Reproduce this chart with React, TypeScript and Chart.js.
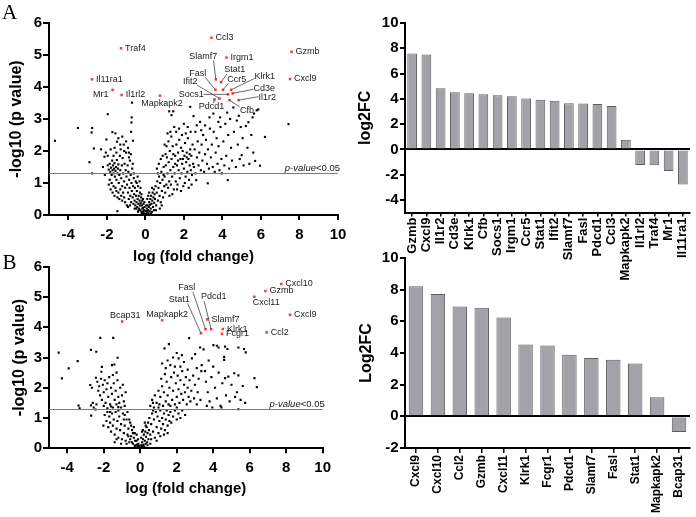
import React, { useEffect, useRef } from "react";
import { Chart, registerables } from "chart.js";

Chart.register(...registerables);

const FONT = "'Liberation Sans', Arial, Helvetica, sans-serif";
const SERIF = "'Liberation Serif', 'Times New Roman', serif";

// ---------- Panel A data ----------
const genesA = ["Gzmb", "Cxcl9", "Il1r2", "Cd3e", "Klrk1", "Cfb", "Socs1", "Irgm1", "Ccr5", "Stat1", "Ifit2", "Slamf7", "Fasl", "Pdcd1", "Ccl3", "Mapkapk2", "Il1rl2", "Traf4", "Mr1", "Il11ra1"];
const log2fcA = [7.59, 7.51, 4.84, 4.53, 4.45, 4.37, 4.29, 4.21, 4.03, 3.93, 3.85, 3.66, 3.64, 3.59, 3.43, 0.76, -1.23, -1.26, -1.7, -2.77];
const negLogPA = [5.1, 4.25, 3.59, 3.8, 3.91, 3.59, 3.77, 4.92, 3.91, 4.15, 3.64, 4.24, 3.91, 3.61, 5.54, 3.73, 3.75, 5.21, 3.91, 4.24];

// ---------- Panel B data ----------
const genesB = ["Cxcl9", "Cxcl10", "Ccl2", "Gzmb", "Cxcl11", "Klrk1", "Fcgr1", "Pdcd1", "Slamf7", "Fasl", "Stat1", "Mapkapk2", "Bcap31"];
const log2fcB = [8.21, 7.73, 6.93, 6.86, 6.25, 4.53, 4.48, 3.89, 3.68, 3.58, 3.33, 1.2, -0.99];
const negLogPB = [4.41, 5.43, 3.83, 5.2, 5.01, 3.94, 3.78, 3.93, 4.26, 3.93, 3.8, 4.23, 4.19];

const pValueThreshold = 1.3; // -log10(0.05)

// ---------- tick labels ----------
const volcanoXTicks = [-4, -2, 0, 2, 4, 6, 8, 10];
const volcanoYTicks = [0, 1, 2, 3, 4, 5, 6];
const barATicks = [-4, -2, 0, 2, 4, 6, 8, 10];
const barBTicks = [-2, 0, 2, 4, 6, 8, 10];

// ---------- other (unlabelled) genes: [log fold change, -log10 p] ----------
const otherGenesA: [number, number][] = [
  [-4.69, 2.32], [-3.5, 2.72], [-2.76, 2.72], [-2.79, 2.58], [-2.67, 2.08], [-2.9, 1.65], [-2.76, 1.3], [-1.95, 3.15], [-2.02, 2.36], [-2.12, 1.82], [-2.3, 2.05], [-2.05, 1.95], [-1.71, 2.59], [-1.55, 2.55], [-1.47, 2.29], [-1.45, 0.12], [-0.69, 3.51], [-0.71, 3.05], [-0.72, 2.89], [-0.74, 2.6], [-0.64, 2.32],
  [-1.95, 1.55], [-1.9, 1.42], [-1.85, 1.6], [-1.82, 1.35], [-1.78, 1.48], [-1.75, 1.25], [-1.72, 1.7], [-1.7, 1.4], [-1.68, 1.55], [-1.65, 1.3], [-1.62, 1.45], [-1.6, 1.62], [-1.58, 1.2], [-1.55, 1.38], [-1.52, 1.5], [-1.5, 1.1], [-1.48, 1.72], [-1.45, 1.3], [-1.42, 1.45], [-1.4, 1.58], [-1.38, 1.0], [-1.35, 1.25], [-1.32, 1.85], [-1.3, 1.4], [-1.28, 2.05], [-1.25, 1.15], [-1.22, 1.55], [-1.2, 0.9], [-1.18, 1.78], [-1.15, 1.3], [-1.12, 2.2], [-1.1, 1.05], [-1.08, 1.6], [-1.05, 0.85], [-1.02, 1.4], [-1.0, 1.95],
  [-1.9, 0.95], [-1.85, 1.1], [-1.8, 0.8], [-1.75, 1.0], [-1.7, 0.7], [-1.65, 0.9], [-1.6, 0.6], [-1.55, 0.85], [-1.5, 0.75], [-1.45, 0.55], [-1.4, 0.7], [-1.35, 0.5], [-1.3, 0.8], [-1.25, 0.6], [-1.2, 0.45], [-1.15, 0.7], [-1.1, 0.55], [-1.05, 0.4],
  [-1.6, 2.1], [-1.5, 1.95], [-1.4, 2.4], [-1.3, 2.2], [-1.2, 2.45], [-1.1, 2.0], [-1.0, 2.3], [-0.9, 2.1], [-0.85, 1.8], [-1.8, 2.05], [-1.65, 1.85], [-1.95, 1.85], [-2.2, 1.5], [-2.1, 1.25],
  [-0.98, 1.2], [-0.95, 0.95], [-0.92, 1.55], [-0.9, 0.7], [-0.88, 1.35], [-0.86, 0.5], [-0.84, 1.1], [-0.82, 0.85], [-0.8, 1.7], [-0.78, 0.6], [-0.76, 1.25], [-0.74, 0.4], [-0.72, 1.0], [-0.7, 0.75], [-0.68, 1.45], [-0.66, 0.55], [-0.64, 0.9], [-0.62, 0.35], [-0.6, 1.15], [-0.58, 0.65], [-0.56, 0.45], [-0.54, 0.85], [-0.52, 0.3], [-0.5, 1.05], [-0.96, 0.3], [-0.9, 0.25], [-0.85, 1.95], [-0.75, 1.9], [-0.65, 1.6], [-0.6, 1.3], [-0.55, 0.2], [-0.8, 0.3],
  [-0.48, 0.6], [-0.46, 0.4], [-0.44, 0.75], [-0.42, 0.25], [-0.4, 0.5], [-0.38, 0.9], [-0.36, 0.35], [-0.34, 0.6], [-0.32, 0.2], [-0.3, 0.45], [-0.28, 0.7], [-0.26, 0.15], [-0.24, 0.38], [-0.22, 0.55], [-0.2, 0.1], [-0.18, 0.3], [-0.16, 0.45], [-0.14, 0.08], [-0.12, 0.22], [-0.1, 0.35], [-0.08, 0.05], [-0.06, 0.15], [-0.04, 0.25], [-0.02, 0.03], [-0.45, 1.0], [-0.4, 1.2], [-0.35, 0.15], [-0.3, 1.05], [-0.25, 0.85], [-0.2, 0.65], [-0.15, 0.2], [-0.1, 0.12], [-0.05, 0.4], [-0.47, 0.2], [-0.38, 0.1], [-0.28, 0.3], [-0.18, 0.05], [-0.12, 0.5],
  [0.02, 0.04], [0.04, 0.12], [0.06, 0.02], [0.08, 0.2], [0.1, 0.08], [0.12, 0.3], [0.14, 0.15], [0.16, 0.05], [0.18, 0.25], [0.2, 0.4], [0.22, 0.12], [0.24, 0.32], [0.26, 0.5], [0.28, 0.2], [0.3, 0.6], [0.32, 0.35], [0.34, 0.1], [0.36, 0.45], [0.38, 0.7], [0.4, 0.25], [0.42, 0.55], [0.44, 0.8], [0.46, 0.38], [0.48, 0.65], [0.1, 0.5], [0.2, 0.7], [0.3, 0.05], [0.35, 0.85], [0.45, 0.15], [0.05, 0.3], [0.15, 0.6], [0.25, 0.02],
  [0.5, 0.5], [0.53, 0.9], [0.56, 0.3], [0.59, 0.7], [0.62, 1.05], [0.65, 0.45], [0.68, 0.85], [0.71, 1.2], [0.74, 0.6], [0.77, 1.0], [0.8, 0.4], [0.83, 1.35], [0.86, 0.75], [0.89, 1.1], [0.92, 0.55], [0.95, 1.5], [0.98, 0.9], [0.6, 1.45], [0.7, 1.6], [0.8, 1.75], [0.9, 1.85], [0.75, 0.2], [0.55, 0.15], [0.85, 0.3], [0.65, 1.3], [0.95, 1.25],
  [1.0, 1.2], [1.03, 0.7], [1.06, 1.55], [1.09, 0.95], [1.12, 1.8], [1.15, 1.3], [1.18, 0.85], [1.21, 1.65], [1.24, 1.05], [1.27, 2.0], [1.3, 1.4], [1.33, 0.95], [1.36, 1.75], [1.39, 1.2], [1.42, 2.15], [1.45, 1.5], [1.48, 0.8], [1.1, 2.15], [1.2, 2.3], [1.35, 2.45], [1.45, 1.9], [1.05, 1.9], [1.25, 0.6], [1.4, 0.65], [1.24, 3.24], [1.45, 3.24], [1.36, 3.12], [1.3, 2.6], [1.15, 2.55], [1.0, 2.2], [1.5, 2.75],
  [1.52, 1.3], [1.55, 1.85], [1.58, 1.05], [1.61, 2.2], [1.64, 1.55], [1.67, 0.95], [1.7, 1.95], [1.73, 1.4], [1.76, 2.35], [1.79, 1.15], [1.82, 1.75], [1.85, 2.1], [1.88, 1.3], [1.91, 1.6], [1.94, 2.0], [1.97, 0.9], [2.0, 1.45], [2.03, 1.85], [2.06, 2.25], [2.09, 1.2], [2.12, 1.65], [2.15, 1.95], [2.18, 1.35], [2.21, 2.4], [2.24, 1.75], [2.27, 1.1], [2.3, 1.55], [2.33, 2.05], [2.36, 1.4], [2.39, 1.85], [2.42, 1.25], [2.45, 2.2], [2.48, 1.6], [1.6, 2.6], [1.75, 2.7], [1.9, 2.5], [2.0, 2.85], [2.1, 2.55], [2.2, 2.75], [2.35, 2.6], [2.33, 3.38], [2.5, 3.09], [1.65, 0.8], [1.85, 0.75], [2.05, 1.0], [2.25, 0.85], [2.4, 0.95], [1.55, 1.6], [1.7, 1.7], [1.95, 1.75], [2.15, 1.8], [2.3, 1.9],
  [2.52, 1.5], [2.56, 2.05], [2.6, 1.3], [2.64, 1.09], [2.68, 1.8], [2.67, 2.8], [2.72, 2.3], [2.76, 1.55], [2.8, 1.95], [2.84, 2.91], [2.88, 1.4], [2.92, 2.2], [2.96, 1.7], [3.0, 2.5], [3.05, 1.35], [3.1, 1.9], [3.15, 2.35], [3.2, 1.6], [3.24, 0.99], [3.25, 2.05], [3.33, 3.05], [3.3, 1.45], [3.35, 2.7], [3.4, 1.8], [3.45, 2.2], [3.53, 3.17], [3.5, 1.5], [3.55, 2.6], [3.6, 1.35], [3.65, 1.95], [3.7, 2.4], [3.79, 2.91], [3.88, 3.05], [3.75, 1.6], [3.8, 2.15], [3.85, 1.4], [3.9, 2.75], [3.95, 1.75], [3.97, 1.3], [2.6, 2.6], [2.9, 2.65], [3.1, 2.8],
  [4.05, 2.3], [4.1, 1.55], [4.15, 2.85], [4.2, 1.85], [4.28, 1.09], [4.3, 2.5], [4.35, 1.45], [4.4, 3.0], [4.45, 2.1], [4.57, 3.36], [4.5, 1.7], [4.6, 2.6], [4.7, 1.5], [4.75, 2.95], [4.8, 2.2], [4.9, 1.75], [4.95, 2.75], [5.0, 1.87], [5.05, 2.4], [5.1, 1.55], [5.22, 2.78], [5.3, 2.1], [5.4, 1.6], [5.5, 2.5], [5.57, 3.05], [5.64, 3.17], [5.78, 3.27], [5.86, 3.3], [5.6, 1.95], [5.7, 1.69], [5.95, 1.54], [6.21, 2.44], [7.43, 2.84], [4.25, 3.2], [4.85, 3.1], [5.35, 2.9],
];

const otherGenesB: [number, number][] = [
  [-4.47, 3.16], [-3.92, 2.64], [-4.29, 2.31], [-3.43, 2.88], [-3.38, 1.41], [-3.32, 1.32], [-2.19, 3.65], [-1.48, 3.65], [-2.7, 3.25], [-2.41, 3.19], [-1.24, 2.99], [-1.42, 2.77], [-2.1, 2.69], [-2.13, 2.53], [-2.43, 2.33], [-2.69, 1.08], [-2.02, 0.75], [-2.74, 2.09], [-2.65, 2.0], [-2.6, 1.5], [-2.7, 1.42], [-2.55, 1.35], [-2.45, 1.28], [-1.5, 2.42], [-1.55, 2.75], [-1.3, 2.5],
  [-2.35, 2.2], [-2.3, 1.9], [-2.25, 2.05], [-2.2, 1.75], [-2.15, 2.3], [-2.1, 1.6], [-2.05, 2.1], [-2.0, 1.85], [-1.95, 2.25], [-1.9, 1.5], [-1.85, 1.95], [-1.8, 2.15], [-1.75, 1.7], [-1.7, 2.35], [-1.65, 1.45], [-1.6, 2.0], [-1.55, 1.8], [-1.5, 1.35], [-1.45, 2.15], [-1.4, 1.6], [-1.35, 1.9], [-1.3, 1.45], [-1.25, 2.25], [-1.2, 1.7], [-1.15, 1.5], [-1.1, 2.0], [-1.05, 1.35], [-1.0, 1.75], [-0.95, 2.1], [-0.9, 1.55], [-0.85, 1.4], [-0.8, 1.85], [-2.4, 1.45], [-2.0, 1.4], [-1.6, 1.38], [-1.8, 1.32], [-1.2, 1.36],
  [-1.95, 1.1], [-1.85, 0.9], [-1.8, 1.2], [-1.75, 0.7], [-1.7, 1.05], [-1.65, 0.85], [-1.6, 0.55], [-1.55, 1.15], [-1.5, 0.75], [-1.45, 0.95], [-1.4, 0.45], [-1.35, 1.2], [-1.3, 0.65], [-1.25, 0.9], [-1.2, 0.35], [-1.15, 1.05], [-1.1, 0.6], [-1.05, 0.8], [-1.0, 0.3], [-0.95, 1.15], [-0.9, 0.5], [-0.85, 0.75], [-0.8, 0.25], [-0.75, 0.95], [-0.7, 0.45], [-0.65, 0.65], [-0.6, 0.2], [-0.55, 0.85], [-0.5, 0.4], [-0.45, 0.6], [-0.4, 0.15], [-0.35, 0.35], [-0.3, 0.5], [-0.25, 0.1], [-0.2, 0.25], [-0.15, 0.05], [-0.1, 0.15], [-0.05, 0.03], [-1.65, 1.2], [-1.4, 0.2], [-1.2, 1.25], [-0.9, 0.95], [-0.7, 1.2], [-0.6, 0.95], [-0.5, 0.75], [-0.45, 0.2], [-0.3, 0.08], [-0.2, 0.45], [-0.12, 0.3], [-0.08, 0.08], [-0.35, 0.7], [-0.55, 0.3], [-0.75, 0.15], [-1.05, 0.15], [-1.3, 0.3], [-0.85, 1.1], [-0.65, 0.4], [-0.4, 0.5], [-0.28, 0.25], [-0.18, 0.12],
  [0.02, 0.02], [0.05, 0.1], [0.08, 0.04], [0.1, 0.2], [0.12, 0.08], [0.15, 0.3], [0.18, 0.12], [0.2, 0.45], [0.22, 0.05], [0.25, 0.25], [0.28, 0.55], [0.3, 0.15], [0.32, 0.38], [0.35, 0.7], [0.38, 0.2], [0.4, 0.5], [0.43, 0.85], [0.45, 0.3], [0.48, 0.6], [0.5, 1.0], [0.55, 0.45], [0.6, 0.8], [0.65, 1.15], [0.7, 0.55], [0.75, 0.95], [0.8, 0.35], [0.85, 1.2], [0.9, 0.7], [0.95, 1.05], [1.0, 0.5], [1.05, 0.9], [1.1, 1.25], [1.15, 0.65], [1.2, 1.0], [1.25, 0.8], [1.3, 1.15], [1.35, 0.6], [1.4, 0.95], [1.45, 1.25], [1.5, 0.75], [1.55, 1.1], [1.6, 0.9], [1.65, 1.2], [1.7, 0.85], [1.8, 1.05], [1.9, 1.25], [2.0, 0.95], [2.1, 1.15], [2.2, 1.0], [2.3, 1.25], [2.46, 1.1], [0.1, 0.55], [0.2, 0.02], [0.3, 0.75], [0.4, 0.1], [0.6, 0.3], [0.7, 1.25], [0.9, 0.25], [1.1, 0.4], [1.3, 0.45], [1.5, 0.5], [0.25, 0.85], [0.05, 0.35], [0.15, 0.6], [0.55, 0.15],
  [0.55, 1.4], [0.65, 1.6], [0.75, 1.35], [0.8, 1.75], [0.9, 1.5], [1.0, 1.9], [1.05, 1.45], [1.1, 1.7], [1.2, 2.05], [1.25, 1.4], [1.3, 1.85], [1.4, 1.55], [1.45, 2.2], [1.5, 1.75], [1.55, 1.45], [1.6, 2.0], [1.7, 2.35], [1.75, 1.6], [1.8, 1.9], [1.85, 2.5], [1.9, 1.45], [1.95, 2.15], [2.0, 1.7], [2.05, 2.4], [2.1, 1.95], [2.15, 1.5], [2.2, 2.25], [2.25, 1.8], [2.3, 2.55], [2.35, 1.6], [2.4, 2.1], [2.45, 1.85], [2.5, 2.35], [2.55, 1.45], [2.6, 2.0], [2.65, 1.7], [2.7, 2.25], [2.75, 1.55], [2.8, 1.9], [2.9, 2.4], [2.95, 1.65], [3.0, 2.1], [3.1, 1.45], [3.15, 1.85], [3.2, 2.3], [3.3, 1.6], [3.35, 2.55], [1.15, 2.3], [1.35, 2.45], [1.65, 1.4], [2.0, 1.35], [1.0, 1.35], [0.7, 1.5],
  [1.33, 3.3], [1.57, 3.44], [1.2, 2.8], [1.4, 2.65], [1.5, 2.9], [1.65, 2.75], [1.8, 3.0], [1.9, 2.7], [2.0, 3.15], [2.1, 2.97], [2.28, 3.08], [2.2, 2.7], [2.4, 2.85], [2.68, 3.64], [2.83, 2.97], [3.01, 3.11], [3.28, 3.33], [3.47, 3.27], [2.6, 2.6], [3.37, 2.75], [3.1, 2.65],
  [3.55, 2.55], [3.6, 2.2], [3.7, 1.85], [3.8, 1.55], [3.9, 2.35], [4.01, 3.41], [4.2, 3.39], [4.29, 3.33], [4.0, 2.7], [4.1, 2.0], [4.2, 1.65], [4.3, 2.5], [4.4, 1.4], [4.5, 2.15], [4.6, 3.02], [4.6, 2.92], [4.65, 3.36], [4.78, 3.28], [4.65, 2.32], [4.83, 2.37], [4.7, 1.75], [4.9, 1.55], [5.0, 2.1], [5.15, 2.48], [5.38, 2.41], [5.2, 1.7], [5.3, 1.85], [5.38, 1.29], [5.38, 3.33], [5.5, 1.6], [5.62, 2.06], [5.69, 3.28], [5.78, 3.17], [5.75, 1.5], [6.26, 2.32], [6.39, 2.02], [3.65, 1.4], [3.95, 1.35], [4.45, 1.35], [3.75, 2.9],
];

// ---------- label layout (pixel offsets of label text from its point) ----------
type LabelLayout = { gene: string; dx: number; dy: number; align: CanvasTextAlign; leader?: [number, number] };
const R = (gene: string, dy = 0): LabelLayout => ({ gene, dx: 4, dy, align: "left" });

const labelLayoutA: LabelLayout[] = [
  R("Gzmb"), R("Cxcl9"), R("Irgm1"), R("Ccl3"), R("Il1rl2"), R("Traf4"), R("Il11ra1"),
  { gene: "Mr1", dx: -4, dy: 5, align: "right" },
  { gene: "Mapkapk2", dx: 2, dy: 8, align: "center" },
  { gene: "Il1r2", dx: 28.6, dy: -2.4, align: "center", leader: [19.9, -3.4] },
  { gene: "Cd3e", dx: 31.6, dy: -5.1, align: "center", leader: [20.9, -4.1] },
  { gene: "Klrk1", dx: 33.6, dy: -13.2, align: "center", leader: [23.5, -11.5] },
  { gene: "Cfb", dx: 17.4, dy: 9.9, align: "center", leader: [10, 6.6] },
  { gene: "Socs1", dx: -36.8, dy: 0, align: "center", leader: [-24.5, 0] },
  { gene: "Ccr5", dx: 13.7, dy: -10.6, align: "center", leader: [5.5, -6.6] },
  { gene: "Stat1", dx: 13.7, dy: -12.2, align: "center", leader: [5.9, -8.2] },
  { gene: "Ifit2", dx: -29.3, dy: -16.8, align: "center", leader: [-22.6, -13.5] },
  { gene: "Slamf7", dx: -12.6, dy: -23.3, align: "center", leader: [-2.3, -18.6] },
  { gene: "Fasl", dx: -17.8, dy: -16.6, align: "center", leader: [-10.3, -12.6] },
  { gene: "Pdcd1", dx: -3, dy: 7.5, align: "center", leader: [-1, 3.5] },
];

const labelLayoutB: LabelLayout[] = [
  R("Cxcl9"), R("Cxcl10"), R("Ccl2"), R("Gzmb"), R("Klrk1"), R("Fcgr1"), R("Slamf7"),
  { gene: "Cxcl11", dx: 12, dy: 6, align: "center" },
  { gene: "Mapkapk2", dx: 5, dy: -6, align: "center" },
  { gene: "Bcap31", dx: 3, dy: -6, align: "center" },
  { gene: "Pdcd1", dx: 2.5, dy: -32.6, align: "center", leader: [-7, -28] },
  { gene: "Fasl", dx: -18.8, dy: -42, align: "center", leader: [-12.7, -37.5] },
  { gene: "Stat1", dx: -21.7, dy: -34, align: "center", leader: [-13.4, -30] },
];

// ---------- helpers ----------
const fixedSize = (size: number, horizontal: boolean) => (s: any) => {
  if (horizontal) s.height = size;
  else s.width = size;
  s.paddingTop = 0;
  s.paddingBottom = 0;
  s.paddingLeft = 0;
  s.paddingRight = 0;
};
const setTicks = (values: number[]) => (s: any) => {
  s.ticks = values.map((v) => ({ value: v }));
};

const tickFont = { family: FONT, size: 15, weight: "bold" as const };

function volcanoPlugin(genes: string[], xs: number[], ys: number[], layout: LabelLayout[]) {
  return {
    id: "volcanoAnnotations",
    afterDatasetsDraw(chart: any) {
      const { ctx, chartArea, scales } = chart;
      const xs_ = scales.x;
      const ys_ = scales.y;
      ctx.save();
      // significance line
      const ly = Math.round(ys_.getPixelForValue(pValueThreshold)) + 0.5;
      ctx.strokeStyle = "#7a7a7a";
      ctx.lineWidth = 1;
      ctx.beginPath();
      ctx.moveTo(chartArea.left, ly);
      ctx.lineTo(chartArea.right, ly);
      ctx.stroke();
      // p-value<0.05 text
      ctx.fillStyle = "#111";
      ctx.textBaseline = "alphabetic";
      ctx.textAlign = "left";
      ctx.font = `italic 9.5px ${FONT}`;
      const w1 = ctx.measureText("p-value").width;
      ctx.font = `9.5px ${FONT}`;
      const w2 = ctx.measureText("<0.05").width;
      const sx = chartArea.right + 2 - w1 - w2;
      ctx.font = `italic 9.5px ${FONT}`;
      ctx.fillText("p-value", sx, ly - 3);
      ctx.font = `9.5px ${FONT}`;
      ctx.fillText("<0.05", sx + w1, ly - 3);
      // gene labels
      ctx.font = `9px ${FONT}`;
      ctx.textBaseline = "middle";
      layout.forEach((l) => {
        const i = genes.indexOf(l.gene);
        if (i < 0) return;
        const px = xs_.getPixelForValue(xs[i]);
        const py = ys_.getPixelForValue(ys[i]);
        if (l.leader) {
          ctx.strokeStyle = "#444";
          ctx.lineWidth = 0.8;
          ctx.beginPath();
          ctx.moveTo(px + l.leader[0], py + l.leader[1]);
          ctx.lineTo(px, py);
          ctx.stroke();
        }
        ctx.fillStyle = "#1a1a1a";
        ctx.textAlign = l.align;
        ctx.fillText(l.gene, px + l.dx, py + l.dy);
      });
      ctx.restore();
    },
  };
}

function volcanoConfig(o: {
  black: [number, number][];
  genes: string[];
  xs: number[];
  ys: number[];
  layout: LabelLayout[];
  pad: { left: number; top: number; right: number; bottom: number };
  yW: number;
  xH: number;
  xTitlePad: number;
  yTitlePad: number;
  xTickPad: number;
}): any {
  return {
    type: "scatter",
    data: {
      datasets: [
        {
          data: o.genes.map((g, i) => ({ x: o.xs[i], y: o.ys[i] })),
          pointStyle: "rect",
          pointRadius: 1.8,
          pointBackgroundColor: "#ff3a3a",
          backgroundColor: "#ff3a3a",
          pointBorderWidth: 0,
        },
        {
          data: o.black.map(([x, y]) => ({ x, y })),
          pointStyle: "rect",
          pointRadius: 1.5,
          pointBackgroundColor: "#000",
          backgroundColor: "#000",
          pointBorderWidth: 0,
        },
      ],
    },
    options: {
      responsive: false,
      animation: false,
      events: [],
      layout: { padding: o.pad },
      plugins: { legend: { display: false }, tooltip: { enabled: false } },
      scales: {
        x: {
          type: "linear",
          min: -5,
          max: 10,
          bounds: "data",
          afterBuildTicks: setTicks(volcanoXTicks),
          afterFit: fixedSize(o.xH, true),
          grid: { drawOnChartArea: false, drawTicks: true, tickLength: 5, color: "#000", lineWidth: 2 },
          border: { display: true, color: "#000", width: 2 },
          ticks: { font: tickFont, color: "#000", padding: o.xTickPad, maxRotation: 0, autoSkip: false },
          title: {
            display: true,
            text: "log (fold change)",
            color: "#000",
            font: { family: FONT, size: 15, weight: "bold" },
            padding: { top: 0, bottom: o.xTitlePad },
          },
        },
        y: {
          type: "linear",
          min: 0,
          max: 6,
          bounds: "data",
          afterBuildTicks: setTicks(volcanoYTicks),
          afterFit: fixedSize(o.yW, false),
          grid: { drawOnChartArea: false, drawTicks: true, tickLength: 6, color: "#000", lineWidth: 2 },
          border: { display: true, color: "#000", width: 2 },
          ticks: { font: tickFont, color: "#000", padding: 1 },
          title: {
            display: true,
            text: "-log10 (p value)",
            color: "#000",
            font: { family: FONT, size: 16, weight: "bold" },
            padding: { top: o.yTitlePad, bottom: 0 },
          },
        },
      },
    },
    plugins: [volcanoPlugin(o.genes, o.xs, o.ys, o.layout)],
  };
}

function barConfig(o: {
  labels: string[];
  values: number[];
  yMin: number;
  ticks: number[];
  yTitle: string;
  pad: { left: number; top: number; right: number; bottom: number };
  yW: number;
  xH: number;
  labelSize: number;
  xTickLen: number;
  xTickPad: number;
  yTitlePad: number;
  barPct: number;
}): any {
  return {
    type: "bar",
    data: {
      labels: o.labels,
      datasets: [
        {
          data: o.values,
          backgroundColor: "#a2a2a8",
          borderColor: "#5e5e5e",
          borderWidth: 1,
          barPercentage: o.barPct,
          categoryPercentage: 1,
        },
      ],
    },
    options: {
      responsive: false,
      animation: false,
      events: [],
      layout: { padding: o.pad },
      plugins: { legend: { display: false }, tooltip: { enabled: false } },
      scales: {
        x: {
          type: "category",
          offset: true,
          afterFit: fixedSize(o.xH, true),
          grid: { offset: false, drawOnChartArea: false, drawTicks: true, tickLength: o.xTickLen, color: "#000", lineWidth: 1.5 },
          border: { display: true, color: "#000", width: 2 },
          ticks: {
            autoSkip: false,
            maxRotation: 90,
            minRotation: 90,
            color: "#000",
            padding: o.xTickPad,
            font: { family: FONT, size: o.labelSize, weight: "bold" },
          },
        },
        y: {
          type: "linear",
          min: o.yMin,
          max: 10,
          bounds: "data",
          afterBuildTicks: setTicks(o.ticks),
          afterFit: fixedSize(o.yW, false),
          grid: {
            drawOnChartArea: true,
            drawTicks: true,
            tickLength: 5,
            lineWidth: 2,
            tickColor: "#000",
            color: (c: any) => (c.tick && c.tick.value === 0 ? "#000" : "rgba(0,0,0,0)"),
          },
          border: { display: true, color: "#000", width: 2 },
          ticks: { font: tickFont, color: "#000", padding: 1.5 },
          title: {
            display: true,
            text: o.yTitle,
            color: "#000",
            font: { family: FONT, size: 16, weight: "bold" },
            padding: { top: o.yTitlePad, bottom: 0 },
          },
        },
      },
    },
  };
}

export default function App() {
  const volA = useRef<HTMLCanvasElement>(null);
  const volB = useRef<HTMLCanvasElement>(null);
  const barA = useRef<HTMLCanvasElement>(null);
  const barB = useRef<HTMLCanvasElement>(null);

  useEffect(() => {
    const charts: Chart[] = [];
    charts.push(
      new Chart(
        volA.current!,
        volcanoConfig({
          black: otherGenesA,
          genes: genesA,
          xs: log2fcA,
          ys: negLogPA,
          layout: labelLayoutA,
          pad: { left: 0, top: 23, right: 12, bottom: 0 },
          yW: 49,
          xH: 53,
          xTitlePad: 2,
          yTitlePad: 7.1,
          xTickPad: 6,
        })
      )
    );
    charts.push(
      new Chart(
        volB.current!,
        volcanoConfig({
          black: otherGenesB,
          genes: genesB,
          xs: log2fcB,
          ys: negLogPB,
          layout: labelLayoutB,
          pad: { left: 0, top: 16.7, right: 27.3, bottom: 0 },
          yW: 49,
          xH: 68.7,
          xTitlePad: 19.5,
          yTitlePad: 10.4,
          xTickPad: 5.4,
        })
      )
    );
    charts.push(
      new Chart(
        barA.current!,
        barConfig({
          labels: genesA,
          values: log2fcA,
          yMin: -5,
          ticks: barATicks,
          yTitle: "log2FC",
          pad: { left: 0, top: 23, right: 6, bottom: 0 },
          yW: 55,
          xH: 77.4,
          labelSize: 13,
          xTickLen: 4,
          xTickPad: 1,
          yTitlePad: 6.2,
          barPct: 0.68,
        })
      )
    );
    charts.push(
      new Chart(
        barB.current!,
        barConfig({
          labels: genesB,
          values: log2fcB,
          yMin: -2,
          ticks: barBTicks,
          yTitle: "Log2FC",
          pad: { left: 0, top: 8, right: 6, bottom: 0 },
          yW: 55,
          xH: 69,
          labelSize: 12,
          xTickLen: 5,
          xTickPad: 2,
          yTitlePad: 7.1,
          barPct: 0.66,
        })
      )
    );
    return () => charts.forEach((c) => c.destroy());
  }, []);

  const abs = (left: number, top: number, width: number, height: number): React.CSSProperties => ({
    position: "absolute",
    left,
    top,
    width,
    height,
  });

  return (
    <div style={{ position: "absolute", left: 0, top: 0, width: 696, height: 517, background: "#fff", overflow: "hidden" }}>
      <canvas ref={volA} width={350} height={268} style={abs(0, 0, 350, 268)} />
      <canvas ref={barA} width={346} height={290} style={abs(350, 0, 346, 290)} />
      <canvas ref={volB} width={350} height={267} style={abs(0, 250, 350, 267)} />
      <canvas ref={barB} width={346} height={267} style={abs(350, 250, 346, 267)} />
      <div style={{ position: "absolute", left: 2, top: 2.4, fontFamily: SERIF, fontSize: 21, lineHeight: "21px", color: "#000" }}>A</div>
      <div style={{ position: "absolute", left: 2.5, top: 252.4, fontFamily: SERIF, fontSize: 21, lineHeight: "21px", color: "#000" }}>B</div>
    </div>
  );
}
